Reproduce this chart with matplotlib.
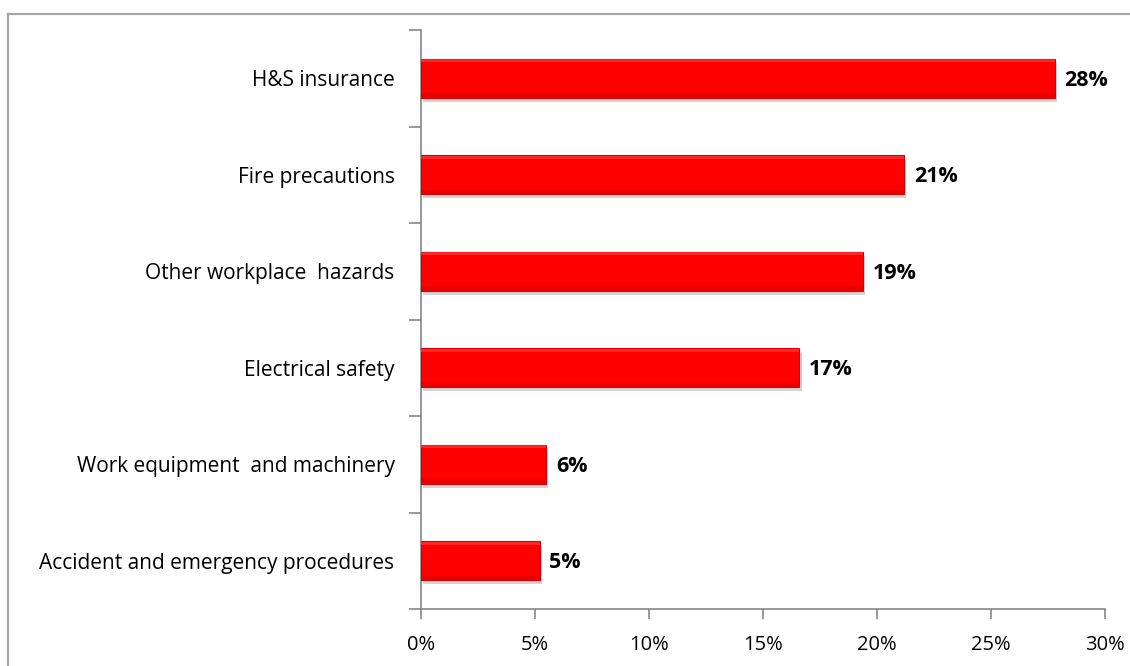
import matplotlib
matplotlib.use("Agg")
import matplotlib.pyplot as plt
import matplotlib.patheffects as pe
from matplotlib.lines import Line2D
import numpy as np

categories = [
    "H&S insurance",
    "Fire precautions",
    "Other workplace  hazards",
    "Electrical safety",
    "Work equipment  and machinery",
    "Accident and emergency procedures",
]
shares = [27.8, 21.2, 19.4, 16.6, 5.5, 5.2]
x_ticks = [0, 5, 10, 15, 20, 25, 30]

plt.rcParams["font.family"] = ["Open Sans", "DejaVu Sans"]
W, H = 1130, 666
fig = plt.figure(figsize=(W / 100, H / 100), dpi=100)
ax = fig.add_axes([421 / W, 1 - 609 / H, (1105 - 421) / W, (609 - 30) / H])

# outer chart frame (top and left edges visible)
frame_col = "#a6a6a6"
fig.add_artist(Line2D([8 / W, 1], [1 - 14 / H] * 2, color=frame_col, lw=1.6))
fig.add_artist(Line2D([8 / W] * 2, [0, 1 - 14 / H], color=frame_col, lw=1.6))

ypos = np.arange(len(categories))
bar_h = 0.4
shadow = [pe.SimplePatchShadow(offset=(1.5, -3), shadow_rgbFace="#909090", alpha=0.4), pe.Normal()]
bars = ax.barh(ypos, shares, height=bar_h, color="#fe0000", edgecolor="#d80000", linewidth=0.8, zorder=3)
for b in bars:
    b.set_path_effects(shadow)

# bevel: faint light edge at top, darker edge at bottom
ax.barh(ypos - bar_h / 2 + 0.02, shares, height=0.03, color="#ff7070", alpha=0.35, linewidth=0, zorder=4)
ax.barh(ypos + bar_h / 2 - 0.025, shares, height=0.04, color="#b00000", alpha=0.3, linewidth=0, zorder=4)

for y, v in zip(ypos, shares):
    ax.text(v + 0.42, y + 0.02, f"{v:.0f}%", va="center", ha="left", fontsize=15.5, fontweight="bold", color="#000000")

ax.set_xlim(0, 30)
ax.set_ylim(len(categories) - 0.5, -0.5)
ax.set_xticks(x_ticks)
ax.set_xticklabels([f"{t}%" for t in x_ticks])
ax.set_yticks(ypos)
ax.set_yticklabels(categories)
ax.set_yticks(np.arange(len(categories) + 1) - 0.5, minor=True)

ax.tick_params(axis="y", which="major", length=0, pad=19, labelsize=15, labelcolor="#000000")
ax.tick_params(axis="y", which="minor", length=9, width=1.2, color="#868686", direction="out")
ax.tick_params(axis="x", which="major", length=7, width=1.2, color="#868686", direction="out", pad=12, labelsize=14.5, labelcolor="#000000")

for side in ("top", "right"):
    ax.spines[side].set_visible(False)
for side in ("left", "bottom"):
    ax.spines[side].set_color("#868686")
    ax.spines[side].set_linewidth(1.2)

fig.savefig("out.png", dpi=100)
